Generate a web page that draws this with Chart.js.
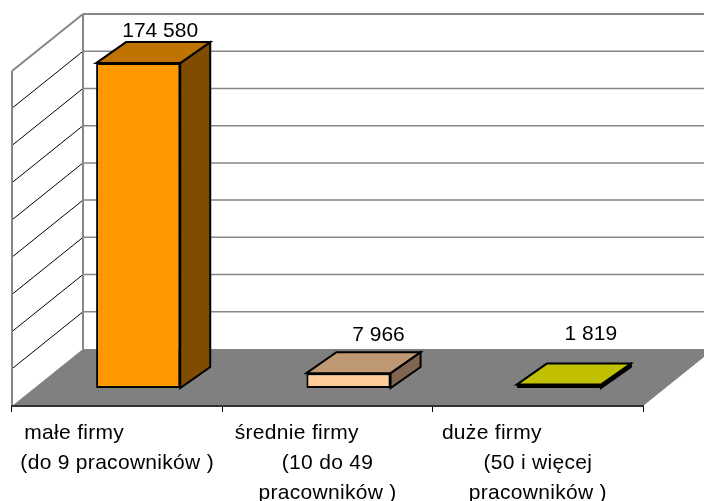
<!DOCTYPE html>
<html>
<head>
<meta charset="utf-8">
<style>
  html, body { margin: 0; padding: 0; background: #fff; }
  canvas { display: block; }
</style>
<script src="https://cdn.jsdelivr.net/npm/chart.js@4/dist/chart.umd.min.js"></script>
</head>
<body>
<canvas id="firmsChart" width="704" height="501"></canvas>
<script>
'use strict';

// trailing spaces push the first line left, as in the source chart
const categories = [
  ['małe firmy              ', '(do 9 pracowników )'],
  ['średnie firmy          ', '(10 do 49', 'pracowników )'],
  ['duże firmy               ', '(50 i więcej', 'pracowników )'],
];
const values = [174580, 7966, 1819];
const valueLabels = ['174 580', '7 966', '1 819'];
const axisMax = 180000;
const axisStep = 20000;

const frontColors = ['#FF9900', '#FFCC99', '#C0C000'];
const topColors = ['#BF7300', '#BF9973', '#C0C000'];
const sideColors = ['#804D00', '#806650', '#000000'];

const FONT = '"Liberation Sans", Arial, sans-serif';

// depth of the floor and of a bar, and where the bars sit inside the floor
const floorDepth = { x: 71, y: 57 };
const barDepth = { x: 30, y: 21 };
const barShift = { x: 21, y: 18 };
const labelNudge = [{ x: -8, y: -11 }, { x: 0, y: -17 }, { x: 2, y: -29 }];

function polygon(ctx, pts, fill, stroke, width) {
  ctx.beginPath();
  pts.forEach((p, i) => (i ? ctx.lineTo(p[0], p[1]) : ctx.moveTo(p[0], p[1])));
  ctx.closePath();
  ctx.fillStyle = fill;
  ctx.fill();
  if (stroke) {
    ctx.strokeStyle = stroke;
    ctx.lineWidth = width;
    ctx.lineJoin = 'miter';
    ctx.stroke();
  }
}

function line(ctx, x1, y1, x2, y2, color, width) {
  ctx.beginPath();
  ctx.moveTo(x1, y1);
  ctx.lineTo(x2, y2);
  ctx.strokeStyle = color;
  ctx.lineWidth = width;
  ctx.stroke();
}

// ─── Walls and floor behind the scales ───
const roomPlugin = {
  id: 'room',
  beforeDraw(chart) {
    const { ctx, chartArea: a, scales: { y } } = chart;
    const dx = floorDepth.x, dy = floorDepth.y;
    const W = chart.width;
    ctx.save();
    polygon(ctx, [[a.left, a.bottom], [a.right, a.bottom], [a.right + dx, a.bottom - dy], [a.left + dx, a.bottom - dy]], '#808080');
    y.ticks.forEach(t => {
      const py = y.getPixelForValue(t.value);
      if (t.value === 0) return;
      const isTop = t.value === axisMax;
      line(ctx, a.left, py, a.left + dx, py - dy, isTop ? '#868686' : '#000', isTop ? 2 : 1);
      line(ctx, a.left + dx, py - dy, W, py - dy, '#868686', isTop ? 2 : 1.5);
    });
    line(ctx, a.left, a.top, a.left, a.bottom, '#868686', 2);
    line(ctx, a.left + dx, a.top - dy, a.left + dx, a.bottom - dy, '#868686', 2);
    ctx.restore();
    ctx.letterSpacing = '0.3px'; // tick labels run a little wide in the source
  },
};

// ─── Bars are pushed back into the floor, top and side faces added ───
const depthPlugin = {
  id: 'depth',
  beforeDatasetsDraw(chart) {
    chart.ctx.letterSpacing = '0px';
    chart.ctx.save();
    chart.ctx.translate(barShift.x, -barShift.y);
  },
  afterDatasetsDraw(chart) {
    const ctx = chart.ctx;
    const bars = chart.getDatasetMeta(0).data;
    const dx = barDepth.x, dy = barDepth.y;
    bars.forEach((bar, i) => {
      const l = bar.x - bar.width / 2, r = bar.x + bar.width / 2;
      const t = bar.y, b = bar.base;
      polygon(ctx, [[r, t], [r + dx, t - dy], [r + dx, b - dy], [r, b]], sideColors[i], '#000', 2);
      polygon(ctx, [[l, t], [l + dx, t - dy], [r + dx, t - dy], [r, t]], topColors[i], '#000', 2);
      ctx.fillStyle = '#000';
      ctx.font = '21px ' + FONT;
      ctx.textAlign = 'center';
      ctx.textBaseline = 'middle';
      ctx.fillText(valueLabels[i], bar.x + dx + labelNudge[i].x, t - dy + labelNudge[i].y);
    });
    ctx.restore();
  },
};

new Chart(document.getElementById('firmsChart'), {
  type: 'bar',
  data: {
    labels: categories,
    datasets: [{
      data: values,
      backgroundColor: frontColors,
      borderColor: '#000',
      borderWidth: 2,
      borderSkipped: false,
      categoryPercentage: 1,
      barPercentage: 0.4,
      clip: false,
    }],
  },
  options: {
    responsive: false,
    animation: false,
    layout: { autoPadding: false, padding: { left: 12, right: 61, top: 71, bottom: 0 } },
    plugins: { legend: { display: false }, tooltip: { enabled: false } },
    scales: {
      x: {
        afterFit: s => { s.height = 95; },
        border: { color: '#333', width: 2 },
        grid: { drawOnChartArea: false, color: '#000', tickLength: 6, tickWidth: 1 },
        ticks: {
          color: '#000',
          font: { family: FONT, size: 21, lineHeight: 1.43 },
          padding: 6,
          maxRotation: 0,
          autoSkip: false,
        },
      },
      y: {
        min: 0,
        max: axisMax,
        afterFit: s => { s.width = 0; },
        border: { display: false },
        grid: { display: false },
        ticks: { display: false, stepSize: axisStep },
      },
    },
  },
  plugins: [roomPlugin, depthPlugin],
});
</script>
</body>
</html>
